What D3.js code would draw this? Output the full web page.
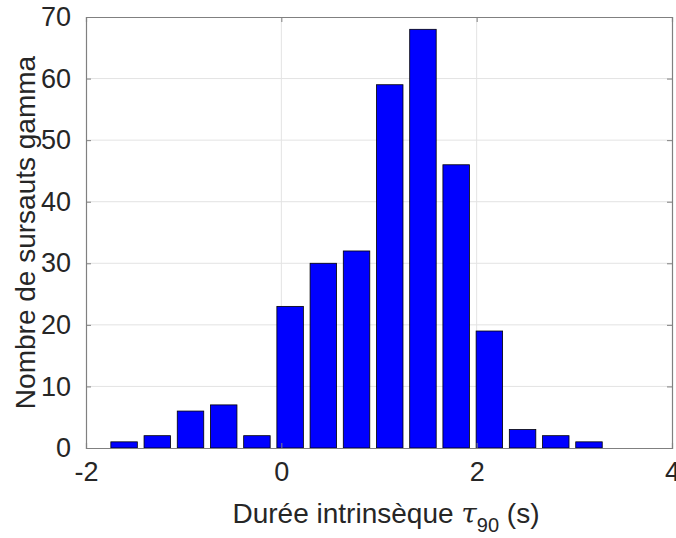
<!DOCTYPE html>
<html>
<head>
<meta charset="utf-8">
<script src="https://cdn.jsdelivr.net/npm/d3@7"></script>
<style>
  body { margin: 0; background: #fff; }
  text { font-family: "Liberation Sans", Arial, sans-serif; fill: #262626; }
</style>
</head>
<body>
<svg id="chart" width="676" height="538"></svg>
<script>
// centres des classes (tau90) et nombre de sursauts
const binCenters = [-1.61, -1.27, -0.93, -0.59, -0.25, 0.09, 0.43, 0.77, 1.11, 1.45, 1.79, 2.13, 2.47, 2.81, 3.15];
const counts = [1, 2, 6, 7, 2, 23, 30, 32, 59, 68, 46, 19, 3, 2, 1];
const xTicks = [-2, 0, 2, 4];
const yTicks = [0, 10, 20, 30, 40, 50, 60, 70];
const binWidth = 0.339;

const svg = d3.select("#chart");
const plotLeft = 86, plotRight = 672, plotTop = 17, plotBottom = 448;

const x = d3.scaleLinear().domain([-2, 4]).range([plotLeft, plotRight]);
const y = d3.scaleLinear().domain([0, 70]).range([plotBottom, plotTop]);

// grille
svg.append("g").selectAll("line")
  .data(xTicks.slice(1, -1))
  .enter().append("line")
  .attr("x1", d => x(d)).attr("x2", d => x(d))
  .attr("y1", plotTop).attr("y2", plotBottom)
  .attr("stroke", "#e3e3e3").attr("stroke-width", 1);
svg.append("g").selectAll("line")
  .data(yTicks.slice(1, -1))
  .enter().append("line")
  .attr("x1", plotLeft).attr("x2", plotRight)
  .attr("y1", d => y(d)).attr("y2", d => y(d))
  .attr("stroke", "#e3e3e3").attr("stroke-width", 1);

// barres
const data = binCenters.map((c, i) => ({c: c, n: counts[i]}));
svg.append("g").selectAll("rect")
  .data(data)
  .enter().append("rect")
  .attr("x", d => x(d.c - binWidth * 0.4))
  .attr("width", d => x(d.c + binWidth * 0.4) - x(d.c - binWidth * 0.4))
  .attr("y", d => y(d.n))
  .attr("height", d => y(0) - y(d.n))
  .attr("fill", "#0000ff")
  .attr("stroke", "#000")
  .attr("stroke-width", 0.8);

// axes (ticks vers l'intérieur)
const axisColor = "#808080";
const fontSize = 27;
const xAxis = svg.append("g").attr("transform", `translate(0,${plotBottom})`)
  .call(d3.axisBottom(x).tickValues(xTicks).tickSize(-5).tickPadding(14).tickFormat(d3.format("d")));
const xAxisTop = svg.append("g").attr("transform", `translate(0,${plotTop})`)
  .call(d3.axisTop(x).tickValues(xTicks).tickSize(-5).tickFormat(""));
const yAxis = svg.append("g").attr("transform", `translate(${plotLeft},0)`)
  .call(d3.axisLeft(y).tickValues(yTicks).tickSize(-5).tickPadding(15));
const yAxisRight = svg.append("g").attr("transform", `translate(${plotRight},0)`)
  .call(d3.axisRight(y).tickValues(yTicks).tickSize(-5).tickFormat(""));

[xAxis, xAxisTop, yAxis, yAxisRight].forEach(g => {
  g.select(".domain").attr("stroke", axisColor).attr("stroke-width", 1.2);
  g.selectAll(".tick line").attr("stroke", axisColor);
  g.selectAll("text").attr("font-size", fontSize).attr("fill", "#262626")
    .style("font-family", "'Liberation Sans', Arial, sans-serif");
});
xAxis.selectAll("text").text(d => d < 0 ? "-" + Math.abs(d) : d);

// titres des axes
const xl = svg.append("text")
  .attr("x", 386).attr("y", 523)
  .attr("text-anchor", "middle")
  .attr("font-size", 28);
xl.append("tspan").text("Durée intrinsèque ");
xl.append("tspan").attr("font-style", "italic").attr("font-family", "'DejaVu Serif', serif").text("τ");
xl.append("tspan").attr("font-size", 20).attr("dy", 9).text("90");
xl.append("tspan").attr("dy", -9).text(" (s)");

svg.append("text")
  .attr("transform", `translate(35,${(plotTop + plotBottom) / 2}) rotate(-90)`)
  .attr("text-anchor", "middle")
  .attr("font-size", 28)
  .text("Nombre de sursauts gamma");
</script>
</body>
</html>
